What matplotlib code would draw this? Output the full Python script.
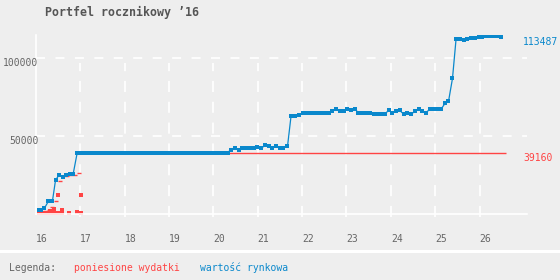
import numpy as np
import matplotlib.pyplot as plt
import matplotlib.transforms as mtrans
from matplotlib.lines import Line2D

plt.rcParams['font.family'] = ['DejaVu Sans Mono']
plt.rcParams['lines.scale_dashes'] = False

# wartosc rynkowa
wart_x = [16.07, 16.12, 16.19, 16.28, 16.33, 16.37, 16.44, 16.52, 16.60, 16.68,
          16.77, 16.81, 16.84, 16.93,
          17.02, 17.10, 17.19, 17.27, 17.36, 17.44, 17.53, 17.61, 17.70, 17.78,
          17.87, 17.95, 18.03, 18.12, 18.20, 18.29, 18.37, 18.46, 18.54, 18.63,
          18.71, 18.79, 18.88, 18.96, 19.05, 19.13, 19.22, 19.30, 19.39, 19.47,
          19.56, 19.64, 19.72, 19.81, 19.89, 19.98, 20.06, 20.15, 20.23, 20.32,
          20.40, 20.48, 20.57, 20.65, 20.74, 20.82, 20.91, 20.99, 21.08, 21.16,
          21.25, 21.33, 21.41, 21.50, 21.58, 21.67, 21.75, 21.84, 21.92, 22.01,
          22.09, 22.17, 22.26, 22.34, 22.43, 22.51, 22.60, 22.68, 22.77, 22.85,
          22.94, 23.02, 23.10, 23.19, 23.27, 23.36, 23.44, 23.53, 23.61, 23.70,
          23.78, 23.86, 23.95, 24.03, 24.12, 24.20, 24.29, 24.37, 24.46, 24.54,
          24.63, 24.71, 24.79, 24.88, 24.96, 25.05, 25.13, 25.22, 25.30, 25.39,
          25.47, 25.56, 25.64, 25.72, 25.81, 25.89, 25.98, 26.06, 26.15, 26.23,
          26.32, 26.40, 26.48]
wart_y = [2500, 2800, 3700, 8200, 8200, 8200, 21700, 25100, 24000, 25300,
          26000, 26000, 26000, 39500,
          39500, 38900, 38900, 38900, 38900, 38900, 38900, 38900, 38900, 38900,
          38900, 38900, 38900, 38900, 38900, 38900, 38900, 38900, 38900, 39500,
          38900, 38900, 38900, 38900, 38900, 38900, 38900, 38900, 38900, 38900,
          39500, 38900, 38900, 38900, 38900, 38900, 39500, 39500, 39500, 39500,
          41400, 42100, 41200, 42100, 42100, 42100, 42100, 42900, 42100, 44200,
          43400, 42700, 43400, 42700, 42700, 43400, 62900, 62900, 63500, 64600,
          64600, 64600, 64600, 64600, 65200, 64600, 65200, 66100, 67200, 65900,
          65900, 67200, 66700, 67200, 65200, 65200, 64600, 64600, 64200, 64200,
          64200, 64200, 66500, 65200, 65900, 66500, 64200, 65200, 64200, 65900,
          67200, 65900, 65200, 67200, 67200, 67200, 67200, 71000, 72300, 87100,
          112200, 112200, 111600, 112400, 112900, 112900, 113500, 113500, 114200, 114200,
          114200, 114200, 113487]

# poniesione wydatki - pojedyncze zakupy
wyd_x = [16.07, 16.12, 16.16, 16.24, 16.32, 16.32, 16.41, 16.41, 16.50, 16.50,
         16.59, 16.59, 16.75, 16.92, 17.01, 17.01]
wyd_kwota = [600, 700, 600, 800, 1700, 400, 2900, 500, 12000, 700,
             2800, 600, 600, 1500, 12000, 760]
koniec = 26.6

lata = [16, 17, 18, 19, 20, 21, 22, 23, 24, 25, 26]
y_ticks = [50000, 100000]
y_labels = ['50000', '100000']

tlo = '#eeeeee'
czerwony = '#ff4444'
niebieski = '#0a88cc'
szary = '#666666'

# sumy wydatkow narastajaco
dni = sorted(set(wyd_x))
suma_dnia = [sum(k for d, k in zip(wyd_x, wyd_kwota) if d == dz) for dz in dni]
narast = np.cumsum(suma_dnia)
konce = dni[1:] + [koniec]

fig = plt.figure(figsize=(5.6, 2.8), dpi=100, facecolor=tlo)
ax = fig.add_axes([36 / 560, 66 / 280, 491 / 560, 179 / 280])
ax.set_facecolor(tlo)
ax.set_xlim(16, 27.07)
ax.set_ylim(0, 115000)

for s in ['top', 'right']:
    ax.spines[s].set_visible(False)
for s in ['left', 'bottom']:
    ax.spines[s].set_color('white')
    ax.spines[s].set_linewidth(1.2)
ax.set_xticks([])
ax.set_yticks([])

# siatka
for v in y_ticks:
    ax.axhline(v, color='white', lw=1.2, ls=(0, (6.5, 7.5)), zorder=1)
tr = mtrans.blended_transform_factory(ax.transData, ax.transAxes)
for x in lata[1:]:
    ax.plot([x, x], [-0.015, 0.843], transform=tr, color='white', lw=1.2,
            ls=(0, (8, 7)), clip_on=False, zorder=1)

for x in lata:
    ax.text(x, -0.14, str(x), transform=tr, ha='left', va='center',
            fontsize=7, color=szary)
for v, t in zip(y_ticks, y_labels):
    ax.text(16 + 2.5 / 44.35, v, t, ha='right', va='top', fontsize=7,
            color=szary, clip_on=False)

# wydatki
ax.plot(wyd_x, wyd_kwota, 's', color=czerwony, ms=3.2, mew=0, zorder=2)
ax.hlines(narast, dni, konce, color=czerwony, lw=1.0, zorder=2)

# wartosc
ax.plot(wart_x, wart_y, '-', color=niebieski, lw=0.9, marker='s', ms=2.7,
        mew=0, zorder=3)

tr2 = mtrans.blended_transform_factory(fig.transFigure, ax.transData)
ax.text(523 / 560, wart_y[-1], str(int(wart_y[-1])), transform=tr2,
        ha='left', va='top', fontsize=7, color=niebieski)
ax.text(523 / 560, narast[-1], str(int(narast[-1])), transform=tr2,
        ha='left', va='top', fontsize=7, color=czerwony)

fig.text(45 / 560, 1 - 12 / 280, 'Portfel rocznikowy \u201916', fontsize=8.4,
         fontweight='bold', color='#555555', ha='left', va='center')

# legenda
fig.add_artist(Line2D([0, 1], [1 - 250.5 / 280] * 2, color='white', lw=2.2))
ly = 1 - 267.7 / 280
fig.text(9 / 560, ly, 'Legenda:', fontsize=7, color=szary, va='center')
fig.text(74 / 560, ly, 'poniesione wydatki', fontsize=7, color=czerwony, va='center')
fig.text(200 / 560, ly, 'wartość rynkowa', fontsize=7, color=niebieski, va='center')

fig.savefig('out.png', dpi=100, facecolor=tlo)
